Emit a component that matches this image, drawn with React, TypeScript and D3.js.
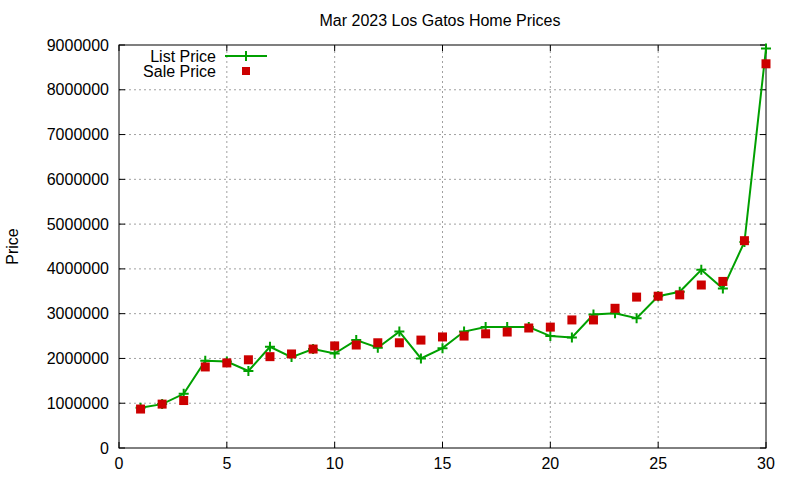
import * as d3 from "d3";

const days = d3.range(1, 31);
const listPrice = [
  0.9, 0.98, 1.21, 1.95, 1.93, 1.72, 2.26, 2.03, 2.21, 2.11, 2.41, 2.24, 2.6, 2.0, 2.23,
  2.6, 2.7, 2.7, 2.7, 2.5, 2.47, 2.98, 3.01, 2.9, 3.39, 3.49, 3.98, 3.56, 4.6, 8.92,
].map((v) => v * 1e6);
const salePrice = [
  0.87, 0.98, 1.06, 1.81, 1.9, 1.97, 2.04, 2.1, 2.21, 2.28, 2.3, 2.35, 2.35, 2.41, 2.48,
  2.5, 2.55, 2.59, 2.68, 2.7, 2.86, 2.86, 3.12, 3.37, 3.39, 3.42, 3.64, 3.72, 4.63, 8.58,
].map((v) => v * 1e6);
const xTicks = [0, 5, 10, 15, 20, 25, 30];
const yTicks = d3.range(0, 9000001, 1000000);

const W = 800;
const H = 480;
const m = { left: 119, right: 34, top: 45, bottom: 32 };
const green = "#00a000";
const red = "#cc0000";
const font = "'Liberation Sans', Arial, sans-serif";

export default function App() {
  const x = d3.scaleLinear().domain([0, 30]).range([m.left, W - m.right]);
  const y = d3.scaleLinear().domain([0, 9000000]).range([H - m.bottom, m.top]);
  const line = d3
    .line<number>()
    .x((_, i) => x(days[i]))
    .y((d) => y(d));

  const plus = (cx: number, cy: number, k: string) => (
    <path key={k} d={`M${cx - 5},${cy}h10M${cx},${cy - 5}v10`} stroke={green} strokeWidth={2} />
  );

  return (
    <svg width={W} height={H} style={{ position: "absolute", left: 0, top: 0, background: "#fff" }} fontFamily={font} fontSize={16}>
      {/* grid */}
      {yTicks.slice(1, -1).map((t) => (
        <line key={"gy" + t} x1={x(0)} x2={x(30)} y1={y(t)} y2={y(t)} stroke="#a0a0a0" strokeDasharray="2,3" />
      ))}
      {xTicks.slice(1, -1).map((t) => (
        <line key={"gx" + t} x1={x(t)} x2={x(t)} y1={y(0)} y2={y(9000000)} stroke="#a0a0a0" strokeDasharray="2,3" />
      ))}
      {/* ticks */}
      {yTicks.map((t) => (
        <g key={"ty" + t}>
          <line x1={x(0)} x2={x(0) + 6} y1={y(t)} y2={y(t)} stroke="#000" />
          <line x1={x(30)} x2={x(30) - 6} y1={y(t)} y2={y(t)} stroke="#000" />
          <text x={x(0) - 10} y={y(t)} dy="0.35em" textAnchor="end">{t}</text>
        </g>
      ))}
      {xTicks.map((t) => (
        <g key={"tx" + t}>
          <line x1={x(t)} x2={x(t)} y1={y(0)} y2={y(0) - 6} stroke="#000" />
          <line x1={x(t)} x2={x(t)} y1={y(9000000)} y2={y(9000000) + 6} stroke="#000" />
          <text x={x(t)} y={y(0) + 21} textAnchor="middle">{t}</text>
        </g>
      ))}
      <rect x={x(0)} y={y(9000000)} width={x(30) - x(0)} height={y(0) - y(9000000)} fill="none" stroke="#000" />
      {/* title & labels */}
      <text x={440} y={26} textAnchor="middle">Mar 2023 Los Gatos Home Prices</text>
      <text transform={`translate(18,${(y(0) + y(9000000)) / 2}) rotate(-90)`} textAnchor="middle">Price</text>
      {/* legend */}
      <text x={216} y={56} dy="0.35em" textAnchor="end">List Price</text>
      <line x1={225} x2={267} y1={56} y2={56} stroke={green} strokeWidth={2} />
      {plus(246, 56, "lg")}
      <text x={216} y={71} dy="0.35em" textAnchor="end">Sale Price</text>
      <rect x={242} y={67} width={8} height={8} fill={red} />
      {/* series */}
      <path d={line(listPrice) ?? ""} fill="none" stroke={green} strokeWidth={2} />
      {listPrice.map((v, i) => plus(x(days[i]), y(v), "p" + i))}
      {salePrice.map((v, i) => (
        <rect key={"s" + i} x={x(days[i]) - 4.5} y={y(v) - 4.5} width={9} height={9} fill={red} />
      ))}
    </svg>
  );
}
